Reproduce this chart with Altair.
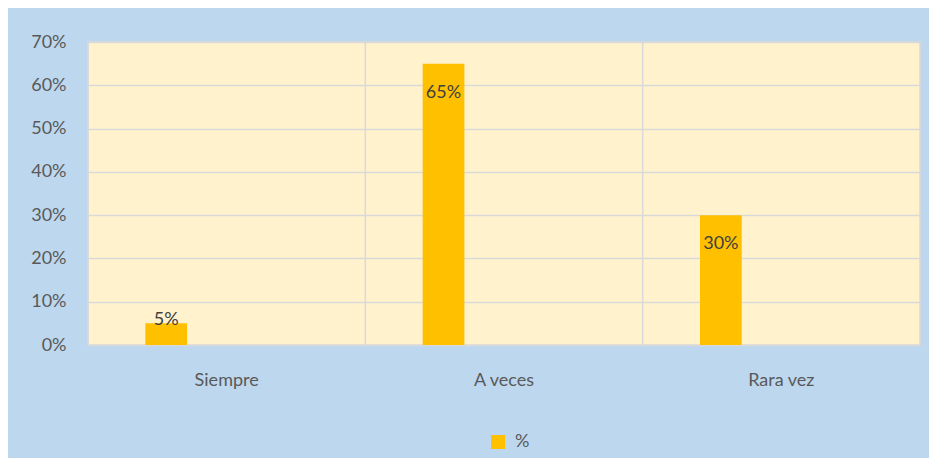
import altair as alt
import pandas as pd

categorias = ["Siempre", "A veces", "Rara vez"]
valores = [0.05, 0.65, 0.30]
serie = ["%", "%", "%"]
etiquetas = ["5%", "65%", "30%"]

df = pd.DataFrame({"cat": categorias, "val": valores, "serie": serie, "lab": etiquetas})

FONT = "Lato"
FS = 18
GRID = "#D9D9D9"

xaxis = alt.Axis(labelAngle=0, labelAlign="center", bandPosition=0.5,
                 labelFont=FONT, labelFontSize=FS, labelColor="#595959",
                 labelPadding=26, domain=False, ticks=False, grid=False)
x = alt.X("cat:N", sort=categorias, title=None,
          scale=alt.Scale(paddingInner=0, paddingOuter=0), axis=xaxis)
xo = alt.XOffset("serie:N", scale=alt.Scale(domain=["%", " "], paddingInner=0.655, paddingOuter=0.474))
y = alt.Y("val:Q", title=None,
          scale=alt.Scale(domain=[0, 0.7]),
          axis=alt.Axis(format=".0%", values=[0, 0.1, 0.2, 0.3, 0.4, 0.5, 0.6, 0.7],
                        labelFont=FONT, labelFontSize=FS, labelColor="#595959",
                        labelPadding=22, domain=False, ticks=False, tickSize=0,
                        grid=True, gridColor=GRID, gridWidth=1.5))

base = alt.Chart(df)

rules = base.mark_rule(color=GRID, strokeWidth=1.5).encode(
    x=alt.X("cat:N", sort=categorias, title=None, bandPosition=0, axis=xaxis)
)

bars = base.mark_bar(color="#FFC000").encode(
    x=x, xOffset=xo, y=y,
    color=alt.Color("serie:N", scale=alt.Scale(domain=["%"], range=["#FFC000"]),
                    legend=alt.Legend(title=None, orient="none", legendX=401, legendY=391,
                                      symbolType="square", symbolSize=196, symbolStrokeWidth=0,
                                      labelFont=FONT, labelFontSize=FS, labelColor="#595959",
                                      labelOffset=8, padding=0))
)

txt_in = base.transform_filter("datum.val >= 0.1").mark_text(
    font=FONT, fontSize=FS, color="#404040", baseline="middle", dy=29
).encode(x=alt.X("cat:N", sort=categorias, title=None), xOffset=xo, y="val:Q", text="lab:N")

txt_out = base.transform_filter("datum.val < 0.1").mark_text(
    font=FONT, fontSize=FS, color="#404040", baseline="middle", dy=-3
).encode(x=alt.X("cat:N", sort=categorias, title=None), xOffset=xo, y="val:Q", text="lab:N")

chart = alt.layer(bars, rules, txt_in, txt_out).properties(
    width=832, height=303,
    autosize=alt.AutoSizeParams(type="none"),
    padding={"left": 80, "top": 34, "right": 9, "bottom": 113},
    background="#BDD7EE"
).configure_view(fill="#FFF2CC", stroke=GRID, strokeWidth=1.5)

chart.save("out.html", embed_options={"renderer": "svg", "actions": False})
